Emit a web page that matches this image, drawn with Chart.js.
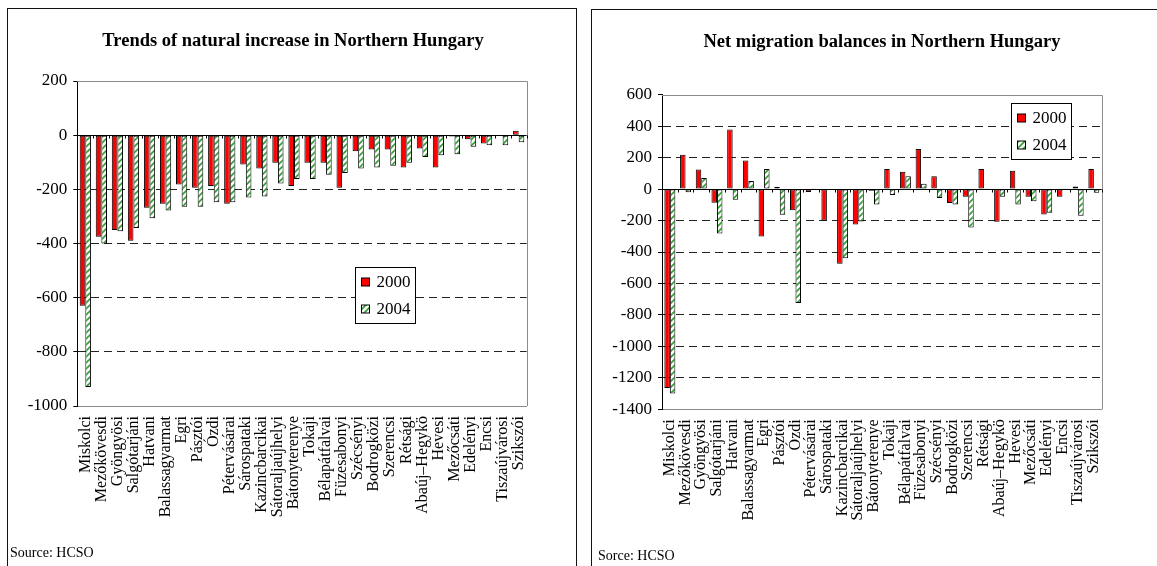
<!DOCTYPE html>
<html>
<head>
<meta charset="utf-8">
<script src="https://cdn.jsdelivr.net/npm/chart.js@4.4.0/dist/chart.umd.min.js"></script>
<style>
body { margin: 0; background: #fff; width: 1157px; height: 566px; overflow: hidden; position: relative; font-family: "Liberation Serif", serif; color: #000; }
.panel { position: absolute; border: 1px solid #111; border-bottom: none; }
#leftPanel { left: 7px; top: 8px; width: 568px; height: 600px; }
#rightPanel { left: 591px; top: 9px; width: 600px; height: 600px; }
.panel canvas { position: absolute; left: 0; top: 0; }
.title { position: absolute; font-weight: bold; font-size: 18.5px; line-height: 22px; white-space: nowrap; transform: translateX(-50%); }
.source { position: absolute; font-size: 14px; line-height: 16px; white-space: nowrap; }
</style>
</head>
<body>
<div class="panel" id="leftPanel"><canvas id="naturalChart" width="568" height="558"></canvas></div>
<div class="panel" id="rightPanel"><canvas id="migrationChart" width="565" height="557"></canvas></div>
<div class="title" style="left:293px; top:29px;">Trends of natural increase in Northern Hungary</div>
<div class="title" style="left:882px; top:30px;">Net migration balances in Northern Hungary</div>
<div class="source" style="left:10px; top:545px;">Source: HCSO</div>
<div class="source" style="left:598px; top:548px;">Sorce: HCSO</div>
<script>
// === Data ===
const districts = ["Miskolci", "Mezőkövesdi", "Gyöngyösi", "Salgótarjáni", "Hatvani", "Balassagyarmat",
    "Egri", "Pásztói", "Ózdi", "Pétervásárai", "Sárospataki", "Kazincbarcikai", "Sátoraljaújhelyi",
    "Bátonyterenye", "Tokaji", "Bélapátfalvai", "Füzesabonyi", "Szécsényi", "Bodrogközi", "Szerencsi",
    "Rétsági", "Abaúj–Hegykö", "Hevesi", "Mezőcsáti", "Edelényi", "Encsi", "Tiszaújvárosi", "Szikszói"];

const seriesLabels = ["2000", "2004"];

const natural2000 = [-630, -375, -350, -390, -268, -253, -182, -194, -188, -253, -108, -123, -102, -188,
    -102, -102, -194, -59, -53, -53, -119, -49, -119, -5, -15, -31, 0, 16];
const natural2004 = [-930, -400, -355, -343, -307, -278, -264, -264, -248, -248, -230, -226, -178, -162,
    -162, -146, -140, -123, -119, -113, -102, -81, -74, -70, -43, -37, -37, -26];

const migration2000 = [-1265, 218, 125, -87, 378, 182, -301, 15, -134, -19, -199, -475, -225, -10,
    127, 110, 255, 81, -89, -49, 127, -208, 117, -49, -161, -49, 17, 127];
const migration2004 = [-1300, -20, 70, -282, -68, 51, 127, -163, -725, 6, 4, -439, -206, -98,
    -38, 81, 34, -57, -98, -244, 5, -49, -98, -78, -151, 6, -170, -23];

const naturalTicks = { min: -1000, max: 200, step: 200 };
const migrationTicks = { min: -1400, max: 600, step: 200 };

const FONT = "Liberation Serif";

// white fill with green diagonal strokes
function makeHatch(ctx) {
    const c = document.createElement("canvas");
    c.width = 6;
    c.height = 6;
    const g = c.getContext("2d");
    g.fillStyle = "#ffffff";
    g.fillRect(0, 0, 6, 6);
    g.strokeStyle = "#2f9e2f";
    g.lineWidth = 1.6;
    g.beginPath();
    g.moveTo(0, 6); g.lineTo(6, 0);
    g.moveTo(-1, 1); g.lineTo(1, -1);
    g.moveTo(5, 7); g.lineTo(7, 5);
    g.stroke();
    return ctx.createPattern(c, "repeat");
}

// frame on top/right + solid zero axis with category ticks
const framePlugin = {
    id: "frame",
    afterDatasetsDraw(chart) {
        const { ctx, chartArea: a, scales: { x, y } } = chart;
        const y0 = Math.round(y.getPixelForValue(0)) + 0.5;
        const top = Math.round(a.top) + 0.5;
        const right = Math.round(a.right) + 0.5;
        ctx.save();
        ctx.lineWidth = 1;
        ctx.strokeStyle = "#8c8c8c";
        ctx.beginPath();
        ctx.moveTo(a.left, top);
        ctx.lineTo(right, top);
        ctx.lineTo(right, a.bottom);
        ctx.stroke();
        ctx.strokeStyle = "#000";
        ctx.beginPath();
        ctx.moveTo(a.left, y0);
        ctx.lineTo(a.right, y0);
        for (let i = 0; i <= chart.data.labels.length; i++) {
            const px = Math.round(x.getPixelForValue(i - 0.5)) + 0.5;
            ctx.moveTo(px, y0);
            ctx.lineTo(px, y0 + 3);
        }
        ctx.stroke();
        ctx.restore();
    }
};

// boxed legend placed inside the plot area
const boxLegend = {
    id: "boxLegend",
    afterDraw(chart, args, opts) {
        const { ctx, chartArea: a } = chart;
        const bx = Math.round(a.left + (a.right - a.left) * opts.left) + 0.5;
        const by = Math.round(a.top + (a.bottom - a.top) * opts.top) + 0.5;
        ctx.save();
        ctx.fillStyle = "#fff";
        ctx.fillRect(bx, by, 60, 56);
        ctx.strokeStyle = "#000";
        ctx.lineWidth = 1;
        ctx.strokeRect(bx, by, 60, 56);
        ctx.font = "17px '" + FONT + "'";
        ctx.textBaseline = "middle";
        chart.data.datasets.forEach((ds, i) => {
            const cy = Math.round(by + 14 + i * 27.5);
            ctx.fillStyle = ds.backgroundColor;
            ctx.fillRect(bx + 6, cy - 4, 8, 8);
            ctx.strokeRect(bx + 6, cy - 4, 8, 8);
            ctx.fillStyle = "#000";
            ctx.fillText(ds.label, bx + 21, cy + 1);
        });
        ctx.restore();
    }
};

function buildChart(canvasId, s2000, s2004, range, box) {
    const canvas = document.getElementById(canvasId);
    const hatch = makeHatch(canvas.getContext("2d"));
    return new Chart(canvas, {
        type: "bar",
        data: {
            labels: districts,
            datasets: [
                { label: seriesLabels[0], data: s2000, backgroundColor: "#ff0000" },
                { label: seriesLabels[1], data: s2004, backgroundColor: hatch }
            ]
        },
        options: {
            responsive: false,
            animation: false,
            layout: { padding: { left: 0, right: box.padRight, top: box.padTop, bottom: 0 } },
            datasets: {
                bar: {
                    borderColor: "#000",
                    borderWidth: 1,
                    borderSkipped: false,
                    categoryPercentage: 0.7,
                    barPercentage: 1
                }
            },
            scales: {
                x: {
                    ticks: {
                        autoSkip: false, maxRotation: 90, minRotation: 90,
                        color: "#000", font: { family: FONT, size: 16 }, padding: 10
                    },
                    grid: { display: false, drawTicks: false },
                    border: { display: true, color: "#8c8c8c", width: 1 },
                    afterFit: s => { s.height = box.xHeight; }
                },
                y: {
                    min: range.min,
                    max: range.max,
                    ticks: {
                        stepSize: range.step, color: "#000", font: { family: FONT, size: 17 }, padding: 6,
                        callback: v => String(v)
                    },
                    grid: {
                        color: c => (c.tick.value === 0 || c.tick.value === range.min || c.tick.value === range.max)
                            ? "rgba(0,0,0,0)" : "#222",
                        lineWidth: 1,
                        tickColor: "#000",
                        tickLength: 4,
                        tickWidth: 1
                    },
                    border: { display: true, color: "#000", width: 1, dash: [8, 5] },
                    afterFit: s => { s.width = box.yWidth; }
                }
            },
            plugins: {
                legend: { display: false },
                tooltip: { enabled: false },
                boxLegend: { left: box.legendLeft, top: box.legendTop }
            }
        },
        plugins: [framePlugin, boxLegend]
    });
}

buildChart("naturalChart", natural2000, natural2004, naturalTicks,
    { padRight: 49.3, padTop: 72, xHeight: 161, yWidth: 69.3, legendLeft: 0.618, legendTop: 0.572 });
buildChart("migrationChart", migration2000, migration2004, migrationTicks,
    { padRight: 55.3, padTop: 84.7, xHeight: 157.7, yWidth: 70, legendLeft: 0.794, legendTop: 0.025 });
</script>
</body>
</html>
